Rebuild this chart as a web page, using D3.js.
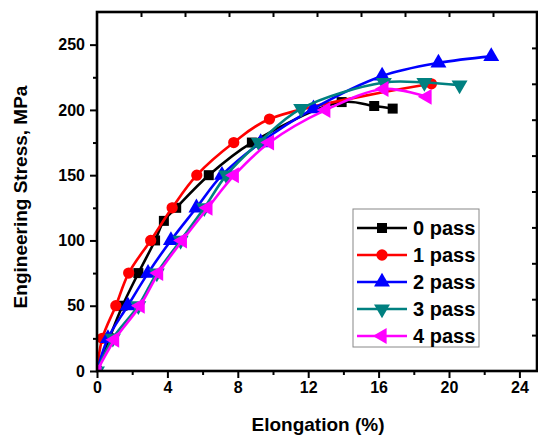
<html>
<script src="https://d3js.org/d3.v7.min.js"></script>
<style>
  body { margin: 0; background: white; }
  text { font-family: "Liberation Sans", Arial, sans-serif; font-weight: bold; }
</style>
<body>
<div id="chart"></div>
<script>
  // elongation (%) / engineering stress (MPa)
  var pass0X = [0, 0.7, 1.45, 2.35, 3.3, 3.8, 4.5, 6.35, 8.8, 13.9, 15.75, 16.8];
  var pass0Y = [0, 25, 50, 75, 100, 115, 125, 150, 175, 206, 203, 201];
  var pass1X = [0, 0.3, 1.07, 1.8, 3.05, 4.27, 5.67, 7.77, 9.8, 19.0];
  var pass1Y = [0, 25, 50, 75, 100, 125, 150, 175, 193, 220];
  var pass2X = [0, 0.62, 1.75, 2.9, 4.2, 5.65, 7.1, 9.3, 12.3, 16.2, 19.4, 22.4];
  var pass2Y = [0, 25, 50, 75, 100, 125, 150, 175, 201, 226, 236, 241];
  var pass3X = [0, 0.9, 2.35, 3.4, 4.75, 6.1, 7.35, 9.2, 11.6, 16.3, 18.6, 20.6];
  var pass3Y = [0, 25, 50, 75, 100, 125, 150, 175, 201, 221, 221, 219];
  var pass4X = [0, 1.0, 2.45, 3.5, 4.85, 6.3, 7.8, 9.8, 13.0, 16.3, 18.75];
  var pass4Y = [0, 24, 50, 75, 100, 125, 150, 175, 200, 216, 210];

  var seriesNames = ["0 pass", "1 pass", "2 pass", "3 pass", "4 pass"];
  var xTicks = [0, 4, 8, 12, 16, 20, 24];
  var yTicks = [0, 50, 100, 150, 200, 250];

  var series = [
    { name: seriesNames[0], xs: pass0X, ys: pass0Y, color: "#000000", shape: "square" },
    { name: seriesNames[1], xs: pass1X, ys: pass1Y, color: "#ff0000", shape: "circle" },
    { name: seriesNames[2], xs: pass2X, ys: pass2Y, color: "#0000ff", shape: "up" },
    { name: seriesNames[3], xs: pass3X, ys: pass3Y, color: "#008080", shape: "down" },
    { name: seriesNames[4], xs: pass4X, ys: pass4Y, color: "#ff00ff", shape: "left" }
  ];

  var W = 538, H = 438;
  var L = 97, R = 537, T = 12, B = 371;

  var x = d3.scaleLinear().domain([0, 25]).range([L, R]);
  var y = d3.scaleLinear().domain([0, 275]).range([B, T]);

  var svg = d3.select("#chart").append("svg")
    .attr("width", W).attr("height", H);

  svg.append("defs").append("clipPath").attr("id", "plot")
    .append("rect").attr("x", L).attr("y", T).attr("width", R - L).attr("height", B - T);

  function marker(shape) {
    if (shape == "square") return d3.symbol().type(d3.symbolSquare).size(100)();
    if (shape == "circle") return d3.symbol().type(d3.symbolCircle).size(100)();
    return d3.symbol().type(d3.symbolTriangle).size(110)();
  }
  function rot(shape) {
    if (shape == "down") return 180;
    if (shape == "left") return -90;
    return 0;
  }

  var line = d3.line()
    .x(function (d) { return x(d[0]); })
    .y(function (d) { return y(d[1]); })
    .curve(d3.curveCatmullRom.alpha(0.5));

  var plot = svg.append("g").attr("clip-path", "url(#plot)");

  series.forEach(function (s) {
    var pts = s.xs.map(function (v, i) { return [v, s.ys[i]]; });
    plot.append("path")
      .datum(pts)
      .attr("d", line)
      .attr("fill", "none")
      .attr("stroke", s.color)
      .attr("stroke-width", 2.6);
    plot.selectAll(null)
      .data(pts)
      .enter()
      .append("path")
      .attr("d", marker(s.shape))
      .attr("fill", s.color)
      .attr("transform", function (d) {
        return "translate(" + x(d[0]) + "," + y(d[1]) + ") rotate(" + rot(s.shape) + ")";
      });
  });

  // bottom axis
  var xAxis = svg.append("g")
    .attr("transform", "translate(0," + B + ")")
    .call(d3.axisBottom(x).tickValues(xTicks).tickSize(7).tickPadding(4).tickFormat(d3.format("d")));
  xAxis.select(".domain").remove();
  xAxis.selectAll("line").attr("stroke-width", 2);
  xAxis.selectAll("text").style("font-size", "16px").attr("fill", "#000");
  svg.append("g").attr("transform", "translate(0," + B + ")")
    .call(d3.axisBottom(x).tickValues(d3.range(2, 25, 4)).tickSize(4).tickFormat(""))
    .call(function (g) { g.select(".domain").remove(); g.selectAll("line").attr("stroke-width", 2); });

  // left axis
  var yAxis = svg.append("g")
    .attr("transform", "translate(" + L + ",0)")
    .call(d3.axisLeft(y).tickValues(yTicks).tickSize(7).tickPadding(5));
  yAxis.select(".domain").remove();
  yAxis.selectAll("line").attr("stroke-width", 2);
  yAxis.selectAll("text").style("font-size", "16px").attr("fill", "#000");
  svg.append("g").attr("transform", "translate(" + L + ",0)")
    .call(d3.axisLeft(y).tickValues(d3.range(25, 275, 50)).tickSize(4).tickFormat(""))
    .call(function (g) { g.select(".domain").remove(); g.selectAll("line").attr("stroke-width", 2); });

  // top and right inner ticks
  svg.append("g").attr("transform", "translate(0," + T + ")")
    .call(d3.axisBottom(x).tickValues(d3.range(2.5, 25, 2.5)).tickSize(5).tickFormat(""))
    .call(function (g) { g.select(".domain").remove(); g.selectAll("line").attr("stroke-width", 2); });
  svg.append("g").attr("transform", "translate(" + R + ",0)")
    .call(d3.axisLeft(y).tickValues(d3.range(27.5, 275, 27.5)).tickSize(5).tickFormat(""))
    .call(function (g) { g.select(".domain").remove(); g.selectAll("line").attr("stroke-width", 2); });

  // frame
  svg.append("rect")
    .attr("x", L).attr("y", T).attr("width", R - L).attr("height", B - T)
    .attr("fill", "none").attr("stroke", "#000").attr("stroke-width", 2.6);

  // titles
  svg.append("text")
    .attr("x", 318).attr("y", 431)
    .attr("text-anchor", "middle")
    .style("font-size", "19px")
    .text("Elongation (%)");
  svg.append("text")
    .attr("transform", "translate(27,197) rotate(-90)")
    .attr("text-anchor", "middle")
    .style("font-size", "19px")
    .text("Engineering Stress, MPa");

  // legend
  var lg = svg.append("g");
  lg.append("rect")
    .attr("x", 353).attr("y", 209).attr("width", 126).attr("height", 138)
    .attr("fill", "white").attr("stroke", "#888").attr("stroke-width", 1);
  series.forEach(function (s, i) {
    var cy = 228 + i * 27;
    lg.append("line")
      .attr("x1", 357).attr("x2", 407).attr("y1", cy).attr("y2", cy)
      .attr("stroke", s.color).attr("stroke-width", 2.6);
    lg.append("path")
      .attr("d", marker(s.shape))
      .attr("fill", s.color)
      .attr("transform", "translate(382," + cy + ") rotate(" + rot(s.shape) + ")");
    lg.append("text")
      .attr("x", 413).attr("y", cy + 7)
      .style("font-size", "20px")
      .text(s.name);
  });
</script>
</body>
</html>
